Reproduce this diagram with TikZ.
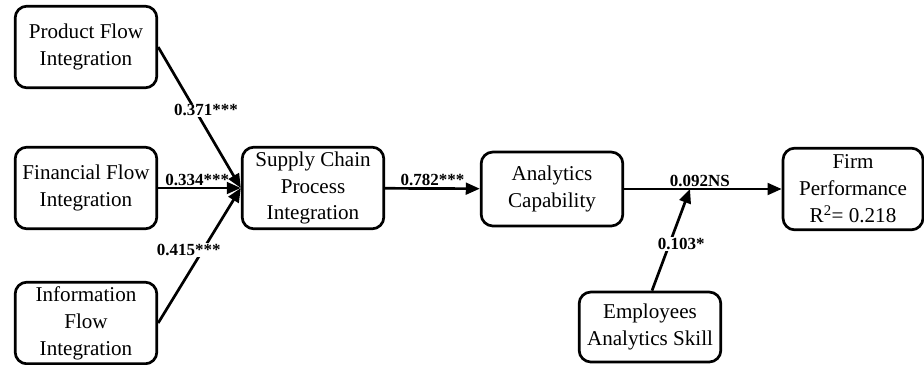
\documentclass[tikz,border=0pt]{standalone}
\usepackage{fontspec}
\setmainfont{Liberation Serif}
\usetikzlibrary{arrows.meta,positioning}

\tikzset{
  construct/.style={draw,line width=2.3pt,rounded corners=10pt,align=center,
    minimum width=4.25cm,minimum height=2.45cm,inner sep=2pt,
    font=\fontsize{18}{23}\selectfont},
  coef/.style={font=\fontsize{14.5}{16}\selectfont\bfseries,inner sep=1pt}
}

\begin{document}
\begin{tikzpicture}[x=0.03cm,y=-0.03cm,line width=2.3pt,
    >={Triangle[length=12pt,width=10pt]}]
                        \useasboundingbox (0,0) rectangle (924,365);

                        \node[construct] (pfi) at (86,47)   {Product Flow\\Integration};
                        \node[construct] (ffi) at (86,188)  {Financial Flow\\Integration};
                        \node[construct] (ifi) at (86,323)  {Information\\Flow\\Integration};
                        \node[construct] (scpi) at (313,188) {Supply Chain\\Process\\Integration};
                        \node[construct,minimum height=2.22cm] (ac) at (552,189) {Analytics\\Capability};
                        \node[construct,minimum width=4.2cm] (fp) at (853,189) {Firm\\Performance\\R\textsuperscript{2}= 0.218};
                        \node[construct,minimum height=2.1cm] (eas) at (650,327) {Employees\\Analytics Skill};
                        \coordinate (mod) at (690,189);

                        \path[->]
                            (pfi.east) edge node [coef,fill=white,pos=0.45,xshift=9pt] {0.371***} (scpi.west)
                            (ffi.east |- scpi.west) edge node [coef,above,xshift=-2pt] {0.334***} (scpi.west)
                            (ifi.east) edge node [coef,fill=white,pos=0.54,xshift=-12pt] {0.415***} (scpi.west)
                            (scpi) edge node [coef,above] {0.782***} (ac)
                            (ac) edge node [coef,above,pos=0.48] {0.092NS} (fp)
                            (eas.north) ++(2,0) edge node [coef,fill=white,pos=0.46,xshift=10pt] {0.103*} (mod);
                    \end{tikzpicture}
\end{document}
